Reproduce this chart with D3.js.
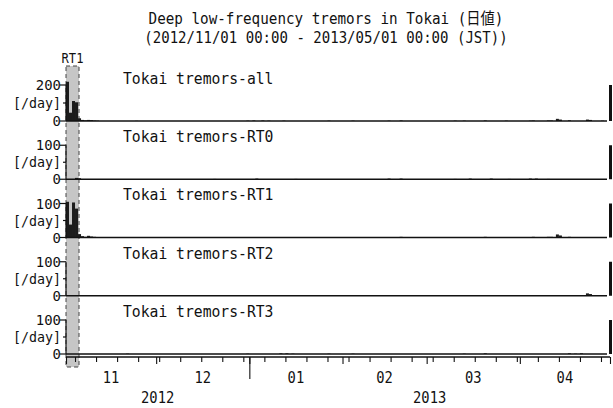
<!DOCTYPE html>
<html>
<head>
<meta charset="utf-8">
<script src="https://cdn.jsdelivr.net/npm/d3@7"></script>
<style>
  html, body { margin: 0; padding: 0; background: #fff; }
  svg { display: block; }
  text { font-family: "DejaVu Sans Mono", "Noto Sans CJK JP", monospace; fill: #111; }
</style>
</head>
<body>
<svg id="chart" width="613" height="408"></svg>
<script>
// Daily counts of deep low-frequency tremors, Tokai region
const titleLines = [
  "Deep low-frequency tremors in Tokai (日値)",
  "(2012/11/01 00:00 - 2013/05/01 00:00 (JST))"
];
const panelNames = ["Tokai tremors-all", "Tokai tremors-RT0", "Tokai tremors-RT1", "Tokai tremors-RT2", "Tokai tremors-RT3"];
const panelTopTick = [200, 100, 100, 100, 100];
const panelMinorTick = [100, 50, 50, 50, 50];
const period = ["2012-11-01", "2013-05-01"];
const rtWindow = ["2012-11-01T00:00", "2012-11-05T08:00"];
const rtLabel = "RT1";
const monthLabels = ["11", "12", "01", "02", "03", "04"];
const yearLabels = ["2012", "2013"];

const countsAll = [
  ["2012-11-01", 218], ["2012-11-02", 46], ["2012-11-03", 111], ["2012-11-04", 104],
  ["2012-11-05", 15], ["2012-11-06", 6], ["2012-11-07", 4], ["2012-11-08", 6],
  ["2012-11-09", 5], ["2012-11-10", 3], ["2012-11-11", 2], ["2012-11-24", 1],
  ["2012-12-31", 2], ["2013-01-02", 3], ["2013-01-05", 3], ["2013-01-07", 2],
  ["2013-01-12", 2], ["2013-01-27", 2], ["2013-02-04", 2], ["2013-02-16", 2],
  ["2013-02-20", 3], ["2013-03-10", 2], ["2013-03-13", 2], ["2013-03-20", 3],
  ["2013-03-27", 2], ["2013-04-04", 2], ["2013-04-05", 3], ["2013-04-10", 3],
  ["2013-04-11", 3], ["2013-04-13", 12], ["2013-04-14", 8], ["2013-04-17", 4],
  ["2013-04-23", 8], ["2013-04-24", 6], ["2013-04-28", 2]
];
const countsRT0 = [
  ["2012-11-04", 4], ["2012-11-05", 3], ["2012-12-20", 1], ["2013-01-03", 2],
  ["2013-01-16", 1], ["2013-02-16", 2], ["2013-02-20", 2], ["2013-03-10", 1],
  ["2013-03-15", 2], ["2013-03-22", 2], ["2013-03-28", 1], ["2013-04-04", 2],
  ["2013-04-06", 2], ["2013-04-10", 1]
];
const countsRT1 = [
  ["2012-11-01", 105], ["2012-11-02", 38], ["2012-11-03", 103], ["2012-11-04", 85],
  ["2012-11-05", 10], ["2012-11-06", 4], ["2012-11-07", 2], ["2012-11-08", 5],
  ["2012-11-09", 3], ["2012-11-10", 2], ["2013-02-20", 2], ["2013-02-24", 1],
  ["2013-03-12", 1], ["2013-03-20", 2], ["2013-03-27", 1], ["2013-04-05", 2],
  ["2013-04-10", 2], ["2013-04-11", 2], ["2013-04-13", 9], ["2013-04-14", 6],
  ["2013-04-17", 2]
];
const countsRT2 = [
  ["2012-11-02", 2], ["2012-11-24", 1], ["2013-04-17", 1], ["2013-04-23", 7],
  ["2013-04-24", 5]
];
const countsRT3 = [
  ["2012-11-21", 1], ["2012-12-31", 1], ["2013-01-11", 2], ["2013-01-13", 2],
  ["2013-01-15", 1], ["2013-01-27", 1], ["2013-02-04", 1], ["2013-03-13", 1],
  ["2013-03-20", 2], ["2013-04-17", 2], ["2013-04-19", 1], ["2013-04-21", 2]
];
const panelCounts = [countsAll, countsRT0, countsRT1, countsRT2, countsRT3];

const parseDay = d3.utcParse("%Y-%m-%d");
const parseTime = d3.utcParse("%Y-%m-%dT%H:%M");

const svg = d3.select("#chart");
const left = 66, right = 610;
const firstBase = 121, panelStep = 58.25;
const pxTop = [36, 34, 34, 34, 34];

const x = d3.scaleUtc()
  .domain(period.map(parseDay))
  .range([left, right]);

const isWide = c => c.charCodeAt(0) > 0x2e80;
const units = s => Array.from(s).reduce((a, c) => a + (isWide(c) ? 2 : 1), 0);

// fit monospace text to a fixed advance per half-width character
function fit(sel, perChar) {
  sel.each(function () {
    const t = d3.select(this);
    t.attr("textLength", units(t.text()) * perChar).attr("lengthAdjust", "spacingAndGlyphs");
  });
}

// title
svg.selectAll("text.title").data(titleLines).join("text")
  .attr("class", "title")
  .attr("x", 326).attr("y", (d, i) => 24 + i * 19)
  .attr("text-anchor", "middle")
  .style("font-size", "15.5px")
  .text(d => d)
  .call(fit, 8.45);

// highlighted RT window
const baseLast = firstBase + panelStep * 4;
svg.append("rect")
  .attr("x", x(parseTime(rtWindow[0])))
  .attr("y", 66)
  .attr("width", x(parseTime(rtWindow[1])) - x(parseTime(rtWindow[0])))
  .attr("height", baseLast + 13 - 66)
  .attr("fill", "#c6c6c6")
  .attr("stroke", "#444")
  .attr("stroke-width", 1)
  .attr("stroke-dasharray", "4,3");
svg.append("text")
  .attr("x", (x(parseTime(rtWindow[0])) + x(parseTime(rtWindow[1]))) / 2)
  .attr("y", 63)
  .attr("text-anchor", "middle")
  .style("font-size", "14px")
  .text(rtLabel)
  .call(fit, 7.3);

// panels
panelCounts.forEach((counts, i) => {
  const base = firstBase + panelStep * i;
  const y = d3.scaleLinear().domain([0, panelTopTick[i]]).range([base, base - pxTop[i]]);
  const g = svg.append("g");

  g.selectAll("rect").data(counts).join("rect")
    .attr("x", d => x(parseDay(d[0])))
    .attr("width", d => x(d3.utcDay.offset(parseDay(d[0]), 1)) - x(parseDay(d[0])))
    .attr("y", d => y(d[1]))
    .attr("height", d => y(0) - y(d[1]))
    .attr("fill", "#1c1c1c");

  // zero line
  g.append("line")
    .attr("x1", left).attr("x2", right - 3)
    .attr("y1", y(0)).attr("y2", y(0))
    .attr("stroke", "#111").attr("stroke-width", 1.4);

  // left axis
  g.append("line")
    .attr("x1", left).attr("x2", left)
    .attr("y1", y(0)).attr("y2", y(panelTopTick[i]))
    .attr("stroke", "#111").attr("stroke-width", 1.2);
  [0, panelTopTick[i]].forEach(v => {
    g.append("line").attr("x1", left - 6).attr("x2", left)
      .attr("y1", y(v)).attr("y2", y(v)).attr("stroke", "#111").attr("stroke-width", 1.2);
  });
  g.append("line").attr("x1", left - 3).attr("x2", left)
    .attr("y1", y(panelMinorTick[i])).attr("y2", y(panelMinorTick[i]))
    .attr("stroke", "#111").attr("stroke-width", 1.2);

  g.append("text").attr("x", 61).attr("y", y(panelTopTick[i])).attr("dy", "0.36em")
    .attr("text-anchor", "end").style("font-size", "14.5px")
    .text(String(panelTopTick[i])).call(fit, 8.4);
  g.append("text").attr("x", 61).attr("y", (y(0) + y(panelTopTick[i])) / 2).attr("dy", "0.36em")
    .attr("text-anchor", "end").style("font-size", "14.5px")
    .text("[/day]").call(fit, 8.0);
  g.append("text").attr("x", 61).attr("y", y(0)).attr("dy", "0.36em")
    .attr("text-anchor", "end").style("font-size", "14.5px")
    .text("0").call(fit, 8.4);

  // panel name
  g.append("text").attr("x", 123).attr("y", base - panelStep + 21)
    .style("font-size", "16px")
    .text(panelNames[i]).call(fit, 8.85);

  // scale bar at the right edge
  g.append("rect")
    .attr("x", 609).attr("width", 3)
    .attr("y", y(panelTopTick[i]))
    .attr("height", y(0) - y(panelTopTick[i]))
    .attr("fill", "#111");
});

// time axis
const axisY = baseLast + 3;
const axisG = svg.append("g").attr("transform", `translate(0,${axisY})`);
axisG.call(d3.axisBottom(x).ticks(d3.utcSunday).tickSize(5).tickFormat(""))
  .call(g => g.select(".domain").remove());
axisG.append("g").call(d3.axisBottom(x).ticks(d3.utcMonth).tickSize(7).tickFormat(""))
  .call(g => g.select(".domain").remove());
axisG.append("g").call(d3.axisBottom(x).ticks(d3.utcYear).tickSize(22).tickFormat(""))
  .call(g => g.select(".domain").remove());
axisG.selectAll(".tick line").attr("stroke", "#111").attr("stroke-width", 1.1);
axisG.append("line").attr("x1", left).attr("x2", right).attr("y1", 0).attr("y2", 0)
  .attr("stroke", "#111").attr("stroke-width", 1.4);

const months = d3.utcMonths(x.domain()[0], x.domain()[1]);
svg.selectAll("text.month").data(months).join("text")
  .attr("class", "month")
  .attr("x", d => (x(d) + x(d3.utcMonth.offset(d, 1))) / 2)
  .attr("y", axisY + 26)
  .attr("text-anchor", "middle")
  .style("font-size", "16px")
  .text((d, i) => monthLabels[i])
  .call(fit, 8.3);

const yearSpans = [[parseDay(period[0]), parseDay("2013-01-01")], [parseDay("2013-01-01"), parseDay(period[1])]];
svg.selectAll("text.year").data(yearSpans).join("text")
  .attr("class", "year")
  .attr("x", d => (x(d[0]) + x(d[1])) / 2)
  .attr("y", axisY + 46)
  .attr("text-anchor", "middle")
  .style("font-size", "16px")
  .text((d, i) => yearLabels[i])
  .call(fit, 8.3);
</script>
</body>
</html>
